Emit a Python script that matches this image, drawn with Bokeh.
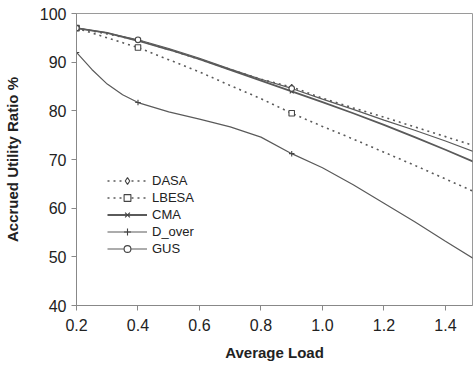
from bokeh.plotting import figure
from bokeh.models import Range1d, FixedTicker, Legend, LegendItem
from bokeh.embed import file_html
from bokeh.resources import INLINE

# ---- data ----
load = [0.2, 0.3, 0.4, 0.5, 0.6, 0.7, 0.8, 0.9, 1.0, 1.1, 1.2, 1.3, 1.4, 1.5]
dasa = [97.0, 95.8, 94.5, 92.6, 90.6, 88.5, 86.5, 84.9, 82.6, 80.6, 78.7, 76.7, 74.7, 72.7]
lbesa = [97.0, 95.0, 93.0, 90.5, 88.0, 85.2, 82.5, 79.5, 76.8, 74.2, 71.5, 68.8, 66.0, 63.2]
cma = [97.0, 96.0, 94.4, 92.6, 90.6, 88.4, 86.2, 84.0, 81.8, 79.5, 77.1, 74.6, 72.0, 69.3]
gus = [97.0, 96.0, 94.6, 92.8, 90.8, 88.6, 86.5, 84.6, 82.4, 80.3, 78.1, 76.0, 73.8, 71.4]
dover_load = [0.2, 0.25, 0.3, 0.35, 0.4, 0.5, 0.6, 0.7, 0.8, 0.9, 1.0, 1.1, 1.2, 1.3, 1.4, 1.5]
dover = [92.0, 88.5, 85.5, 83.3, 81.7, 79.8, 78.3, 76.7, 74.6, 71.2, 68.3, 64.8, 61.0, 57.2, 53.2, 49.3]
marker_loads = [0.2, 0.4, 0.9]
x_ticks = [0.2, 0.4, 0.6, 0.8, 1.0, 1.2, 1.4]
y_ticks = [40, 50, 60, 70, 80, 90, 100]

FONT = "Liberation Sans"
LINE = "#5a5a5a"

p = figure(width=473, height=365, output_backend="svg", toolbar_location=None,
           x_range=Range1d(0.2, 1.488), y_range=Range1d(40, 100),
           min_border_left=74, min_border_right=1, min_border_top=13, min_border_bottom=60)
p.background_fill_color = "white"
p.border_fill_color = "white"
p.outline_line_color = "#9a9a9a"
p.outline_line_width = 1
p.xgrid.visible = False
p.ygrid.visible = False


def pick(xs, ys):
    mx = [x for x in xs if any(abs(x - m) < 1e-9 for m in marker_loads)]
    my = [y for x, y in zip(xs, ys) if any(abs(x - m) < 1e-9 for m in marker_loads)]
    return mx, my


items = []
specs = [
    ("DASA", load, dasa, "2 4", 1.6, "diamond"),
    ("LBESA", load, lbesa, "2 4", 1.6, "square"),
    ("CMA", load, cma, "solid", 1.8, "x"),
    ("D_over", dover_load, dover, "solid", 1.2, "cross"),
    ("GUS", load, gus, "solid", 1.2, "circle"),
]
for name, xs, ys, dash, w, mk in specs:
    r1 = p.line(xs, ys, line_color=LINE, line_width=w, line_dash=dash)
    mx, my = pick(xs, ys)
    r2 = p.scatter(mx, my, marker=mk, size=5.5, line_color="#444444",
                   fill_color="white", line_width=1.1)
    items.append(LegendItem(label=name, renderers=[r1, r2]))

legend = Legend(items=items, location=(31, 48), padding=0, margin=0, spacing=0,
                label_height=17, glyph_height=17, glyph_width=40, label_standoff=5,
                label_text_font=FONT, label_text_font_size="13px",
                label_text_color="#222222", background_fill_alpha=0,
                border_line_color=None)
p.add_layout(legend, "center")

for ax in (p.xaxis[0], p.yaxis[0]):
    ax.axis_line_color = "#888888"
    ax.major_tick_line_color = "#888888"
    ax.major_tick_out = 5
    ax.major_tick_in = 0
    ax.minor_tick_line_color = None
    ax.major_label_text_font = FONT
    ax.major_label_text_font_size = "16px"
    ax.major_label_text_color = "#222222"
    ax.axis_label_text_font = FONT
    ax.axis_label_text_font_size = "15px"
    ax.axis_label_text_font_style = "bold"
    ax.axis_label_text_color = "#222222"

p.xaxis.ticker = FixedTicker(ticks=x_ticks)
p.xaxis.major_label_overrides = {t: f"{t:.1f}" for t in x_ticks}
p.yaxis.ticker = FixedTicker(ticks=y_ticks)
p.xaxis.axis_label = "Average Load"
p.yaxis.axis_label = "Accrued Utility Ratio %"
p.xaxis.major_label_standoff = 8
p.yaxis.major_label_standoff = 5
p.xaxis.axis_label_standoff = 10
p.yaxis.axis_label_standoff = 16

open("out.html", "w").write(file_html(p, INLINE))
